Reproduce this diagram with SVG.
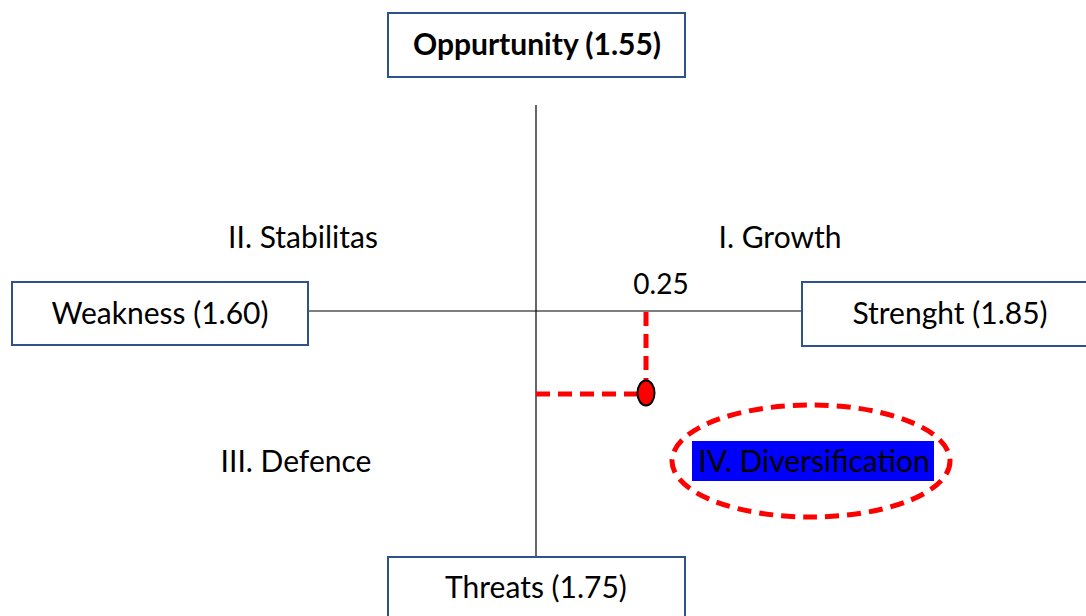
<svg xmlns="http://www.w3.org/2000/svg" width="1086" height="616" viewBox="0 0 1086 616">
<style>
.box{fill:#fff;stroke:#2F528F;stroke-width:2}
.t{font-family:Lato,"Open Sans",sans-serif;font-size:30px;fill:#000;text-anchor:middle}
.axis{stroke:#000;stroke-width:1.2;fill:none}
.rd{stroke:#FF0000;stroke-width:5;stroke-dasharray:14 8;fill:none}
</style>
<rect width="1086" height="616" fill="#fff"/>
<g id="connectors">
<line class="axis" x1="536" y1="105" x2="536" y2="557"/>
<line class="axis" x1="308" y1="311" x2="802" y2="311"/>
<line class="rd" x1="646" y1="312" x2="646" y2="382"/>
<line class="rd" x1="536" y1="394" x2="638" y2="394"/>
</g>
<g id="opportunity"><rect class="box" x="388" y="13" width="297" height="64"/><text class="t" x="537" y="55" font-weight="bold">Oppurtunity (1.55)</text></g>
<g id="weakness"><rect class="box" x="12" y="282" width="296" height="63"/><text class="t" x="160" y="324">Weakness (1.60)</text></g>
<g id="strength"><rect class="box" x="802" y="282" width="290" height="64"/><text class="t" x="950" y="324">Strenght (1.85)</text></g>
<g id="threats"><rect class="box" x="388" y="557" width="297" height="70"/><text class="t" x="536" y="598">Threats (1.75)</text></g>
<g id="labels">
<text class="t" x="303" y="248">II. Stabilitas</text>
<text class="t" x="780" y="248">I. Growth</text>
<text class="t" x="296" y="472">III. Defence</text>
<text class="t" x="661" y="294" style="font-size:28px">0.25</text>
</g>
<g id="point"><ellipse cx="646" cy="393" rx="8.5" ry="12.5" fill="#FF0000" stroke="#000" stroke-width="2"/></g>
<g id="diversification">
<ellipse class="rd" cx="811" cy="461" rx="139" ry="56"/>
<rect x="692" y="441" width="242" height="40" fill="#0000FF"/>
<text class="t" x="814" y="472">IV. Diversification</text>
</g>
</svg>
